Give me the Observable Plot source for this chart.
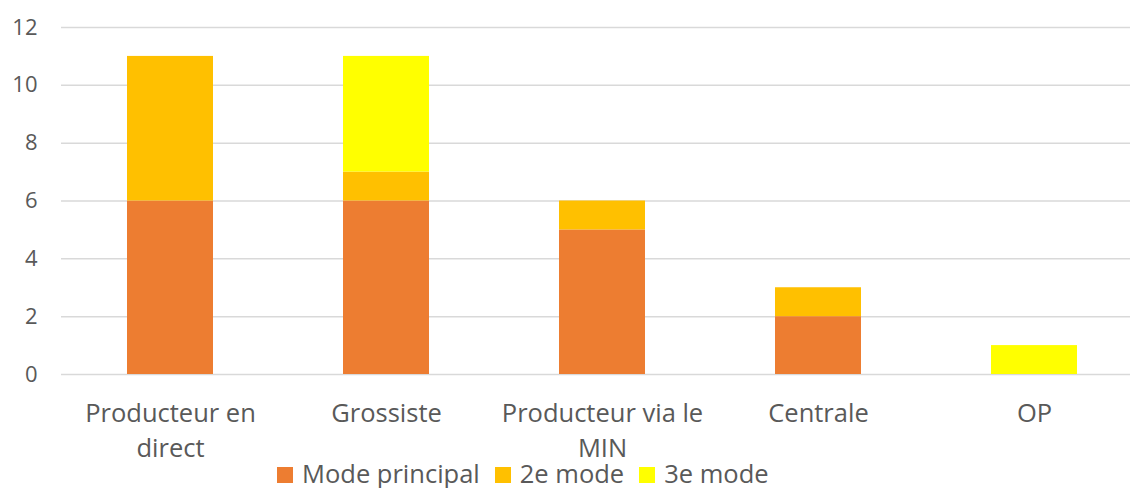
<!DOCTYPE html>
<html><head><meta charset="utf-8">
<script src="https://cdn.jsdelivr.net/npm/d3@7"></script>
<script src="https://cdn.jsdelivr.net/npm/@observablehq/plot@0.6"></script>
<style>
html,body{margin:0;padding:0;background:#fff;}
#wrap{position:relative;width:1130px;height:488px;overflow:hidden;font-family:"Open Sans",sans-serif;}
#legend{position:absolute;left:277px;top:459px;display:flex;align-items:center;font-size:25.5px;color:#595959;white-space:nowrap;line-height:28px;}
#legend .item{display:flex;align-items:center;margin-right:15px;}
#legend .sw{width:16px;height:16px;margin-right:9px;margin-top:4px;}
</style></head><body><div id="wrap"></div><script>
const categories = ["Producteur en direct","Grossiste","Producteur via le MIN","Centrale","OP"];
const categoryLabels = ["Producteur en\ndirect","Grossiste","Producteur via le\nMIN","Centrale","OP"];
const seriesNames = ["Mode principal","2e mode","3e mode"];
const modePrincipal = [6,6,5,2,0];
const mode2 = [5,1,1,1,0];
const mode3 = [0,4,0,0,1];
const seriesColors = ["#ED7D31","#FFC000","#FFFF00"];
const yTicks = [0,2,4,6,8,10,12];

const seriesValues = [modePrincipal, mode2, mode3];
const data = [];
seriesValues.forEach((vals, s) => vals.forEach((v, i) => data.push({cat: categories[i], series: seriesNames[s], value: v})));
const labelOf = new Map(categories.map((c, i) => [c, categoryLabels[i]]));

const chart = Plot.plot({
  width: 1130, height: 488,
  marginLeft: 61, marginRight: 0, marginTop: 27, marginBottom: 114,
  style: {fontFamily: "Open Sans", color: "#595959", background: "transparent"},
  x: {domain: categories, range: [61, 1144], paddingInner: 0.6, paddingOuter: 0.3, axis: null},
  y: {domain: [0, 12], axis: null},
  color: {domain: seriesNames, range: seriesColors},
  marks: [
    Plot.ruleY(yTicks, {stroke: "#d9d9d9", strokeWidth: 1.5}),
    Plot.barY(data, {x: "cat", y: "value", fill: "series"}),
    Plot.axisY(yTicks, {tickSize: 0, tickPadding: 24, fontSize: 22, fill: "#595959", label: null}),
    Plot.axisX(categories, {tickSize: 0, tickPadding: 23, fontSize: 25.5, fill: "#595959", lineHeight: 1.36, label: null, tickFormat: d => labelOf.get(d)})
  ]
});
const wrap = document.getElementById("wrap");
wrap.appendChild(chart);

const legend = d3.select(wrap).append("div").attr("id", "legend");
const items = legend.selectAll(".item").data(seriesNames).join("div").attr("class", "item");
items.append("div").attr("class", "sw").style("background", (d, i) => seriesColors[i]);
items.append("span").text(d => d);
</script></body></html>
